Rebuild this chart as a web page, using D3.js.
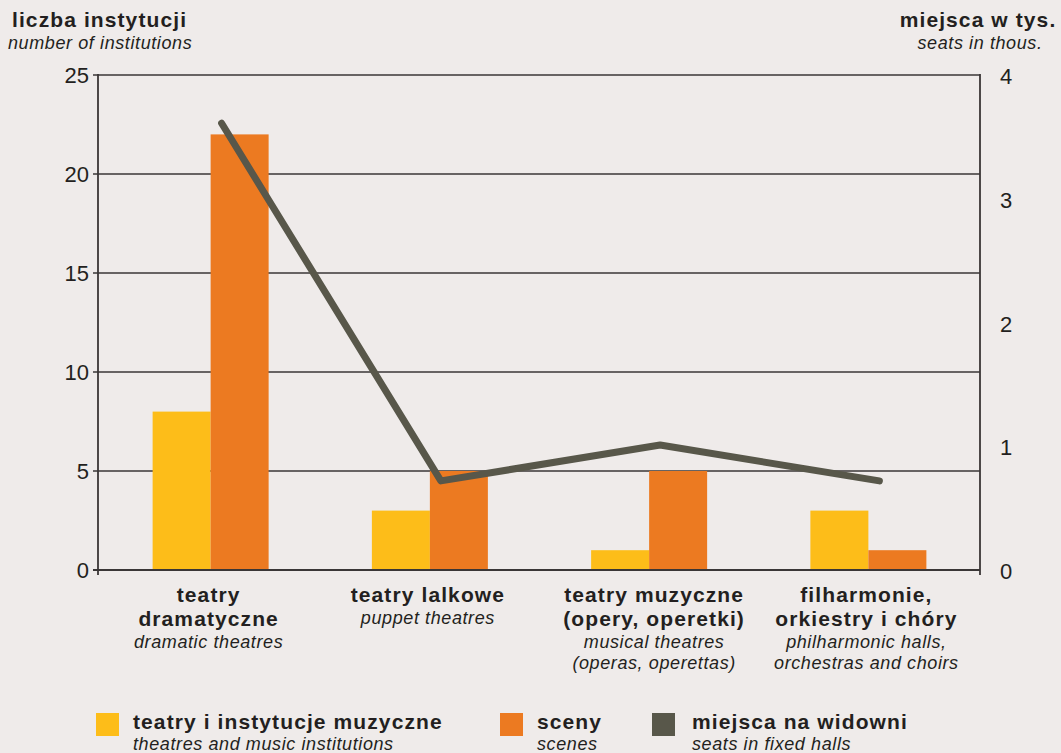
<!DOCTYPE html>
<html>
<head>
<meta charset="utf-8">
<script src="https://cdn.jsdelivr.net/npm/d3@7"></script>
<style>
	body { margin: 0; background: #efebea; }
	svg { display: block; font-family: "Liberation Sans", Arial, sans-serif; }
	text { fill: #231f20; }
	.pl { font-weight: bold; font-size: 21px; letter-spacing: 1.1px; }
	.en { font-style: italic; font-size: 18px; letter-spacing: 0.6px; }
</style>
</head>
<body>
<div id="chart"></div>
<script>
// data
var categories = ["dramatyczne", "lalkowe", "muzyczne", "filharmonie"];
var labelsPl = [["teatry", "dramatyczne"], ["teatry lalkowe"], ["teatry muzyczne", "(opery, operetki)"], ["filharmonie,", "orkiestry i chóry"]];
var labelsEn = [["dramatic theatres"], ["puppet theatres"], ["musical theatres", "(operas, operettas)"], ["philharmonic halls,", "orchestras and choirs"]];
var institutions = [8, 3, 1, 3];
var scenes = [22, 5, 5, 1];
var seats = [3.61, 0.72, 1.01, 0.72];
var leftTicks = [0, 5, 10, 15, 20, 25];
var rightTicks = [0, 1, 2, 3, 4];

var width = 1061,
	height = 753;
var margin = {top: 75, right: 81, bottom: 183, left: 98};

var svg = d3.select("#chart")
	.append("svg")
	.attr("width", width)
	.attr("height", height);

var x = d3.scaleBand()
	.domain(categories)
	.range([margin.left, width - margin.right - 5]);

var xSub = d3.scaleBand()
	.domain(["inst", "scenes"])
	.range([0, 116]);

var y = d3.scaleLinear()
	.domain([0, 25])
	.range([height - margin.bottom, margin.top]);

var y2 = d3.scaleLinear()
	.domain([0, 4])
	.range([height - margin.bottom, margin.top]);

// gridlines
svg.append("g")
	.selectAll("line")
	.data(leftTicks)
	.enter()
	.append("line")
	.attr("x1", margin.left - 5)
	.attr("x2", width - margin.right)
	.attr("y1", function (d) { return y(d); })
	.attr("y2", function (d) { return y(d); })
	.attr("stroke", "#3a3636")
	.attr("stroke-width", 1.6);

// bars
var groups = svg.append("g")
	.selectAll("g")
	.data(categories)
	.enter()
	.append("g")
	.attr("transform", function (d) {
		return "translate(" + (x(d) + x.bandwidth() / 2 - 55) + ",0)";
	});

groups.append("rect")
	.attr("x", xSub("inst"))
	.attr("width", xSub.bandwidth())
	.attr("y", function (d, i) { return y(institutions[i]); })
	.attr("height", function (d, i) { return y(0) - y(institutions[i]); })
	.attr("fill", "#fdbd19");

groups.append("rect")
	.attr("x", xSub("scenes"))
	.attr("width", xSub.bandwidth())
	.attr("y", function (d, i) { return y(scenes[i]); })
	.attr("height", function (d, i) { return y(0) - y(scenes[i]); })
	.attr("fill", "#ec7a21");

// baseline on top of bars
svg.append("line")
	.attr("x1", margin.left - 5)
	.attr("x2", width - margin.right)
	.attr("y1", y(0))
	.attr("y2", y(0))
	.attr("stroke", "#3a3636")
	.attr("stroke-width", 1.8);

// axes lines
svg.append("line")
	.attr("x1", margin.left).attr("x2", margin.left)
	.attr("y1", y(25) - 1).attr("y2", y(0) + 5)
	.attr("stroke", "#3a3636").attr("stroke-width", 1.8);
svg.append("line")
	.attr("x1", width - margin.right).attr("x2", width - margin.right)
	.attr("y1", y(25) - 1).attr("y2", y(0) + 5)
	.attr("stroke", "#3a3636").attr("stroke-width", 1.8);

// left tick labels
svg.append("g")
	.selectAll("text")
	.data(leftTicks)
	.enter()
	.append("text")
	.attr("x", margin.left - 9)
	.attr("y", function (d) { return y(d) + 8; })
	.attr("text-anchor", "end")
	.style("font-size", "22px")
	.text(function (d) { return d; });

// right tick labels
svg.append("g")
	.selectAll("text")
	.data(rightTicks)
	.enter()
	.append("text")
	.attr("x", width - margin.right + 26)
	.attr("y", function (d) { return y2(d) + 9; })
	.attr("text-anchor", "middle")
	.style("font-size", "22px")
	.text(function (d) { return d; });

// seats line
var line = d3.line()
	.x(function (d, i) { return x(categories[i]) + x.bandwidth() / 2 + 14; })
	.y(function (d) { return y2(d); });

svg.append("path")
	.datum(seats)
	.attr("d", line)
	.attr("fill", "none")
	.attr("stroke", "#58574a")
	.attr("stroke-width", 7)
	.attr("stroke-linecap", "round")
	.attr("stroke-linejoin", "round");

// category labels (the musical theatres label sits a bit to the right in the original)
var catLabels = svg.append("g")
	.selectAll("text")
	.data(categories)
	.enter()
	.append("text")
	.attr("text-anchor", "middle")
	.attr("transform", function (d, i) {
		var nudge = i === 2 ? 8 : 1;
		return "translate(" + (x(d) + x.bandwidth() / 2 + nudge) + ",0)";
	});

catLabels.each(function (d, i) {
	var t = d3.select(this);
	var yy = 602;
	labelsPl[i].forEach(function (s) {
		t.append("tspan").attr("class", "pl").attr("x", 0).attr("y", yy).text(s);
		yy += 24;
	});
	yy -= 2;
	labelsEn[i].forEach(function (s) {
		t.append("tspan").attr("class", "en").attr("x", 0).attr("y", yy).text(s);
		yy += 21;
	});
});

// axis titles
svg.append("text").attr("class", "pl").attr("x", 12).attr("y", 27).text("liczba instytucji");
svg.append("text").attr("class", "en").attr("x", 8).attr("y", 49).text("number of institutions");
svg.append("text").attr("class", "pl").attr("x", 978).attr("y", 27).attr("text-anchor", "middle").text("miejsca w tys.");
svg.append("text").attr("class", "en").attr("x", 980).attr("y", 49).attr("text-anchor", "middle").text("seats in thous.");

// legend
var legendItems = [
	{pl: "teatry i instytucje muzyczne", en: "theatres and music institutions", color: "#fdbd19", x: 96},
	{pl: "sceny", en: "scenes", color: "#ec7a21", x: 500},
	{pl: "miejsca na widowni", en: "seats in fixed halls", color: "#58574a", x: 652}
];

var legend = svg.append("g")
	.selectAll("g")
	.data(legendItems)
	.enter()
	.append("g")
	.attr("transform", function (d) { return "translate(" + d.x + ",713)"; });

legend.append("rect")
	.attr("width", 23)
	.attr("height", 23)
	.attr("fill", function (d) { return d.color; });

legend.append("text")
	.attr("class", "pl")
	.attr("x", function (d, i) { return i === 2 ? 40 : 37; })
	.attr("y", 16)
	.text(function (d) { return d.pl; });

legend.append("text")
	.attr("class", "en")
	.attr("x", function (d, i) { return i === 2 ? 40 : 37; })
	.attr("y", 37)
	.text(function (d) { return d.en; });
</script>
</body>
</html>
